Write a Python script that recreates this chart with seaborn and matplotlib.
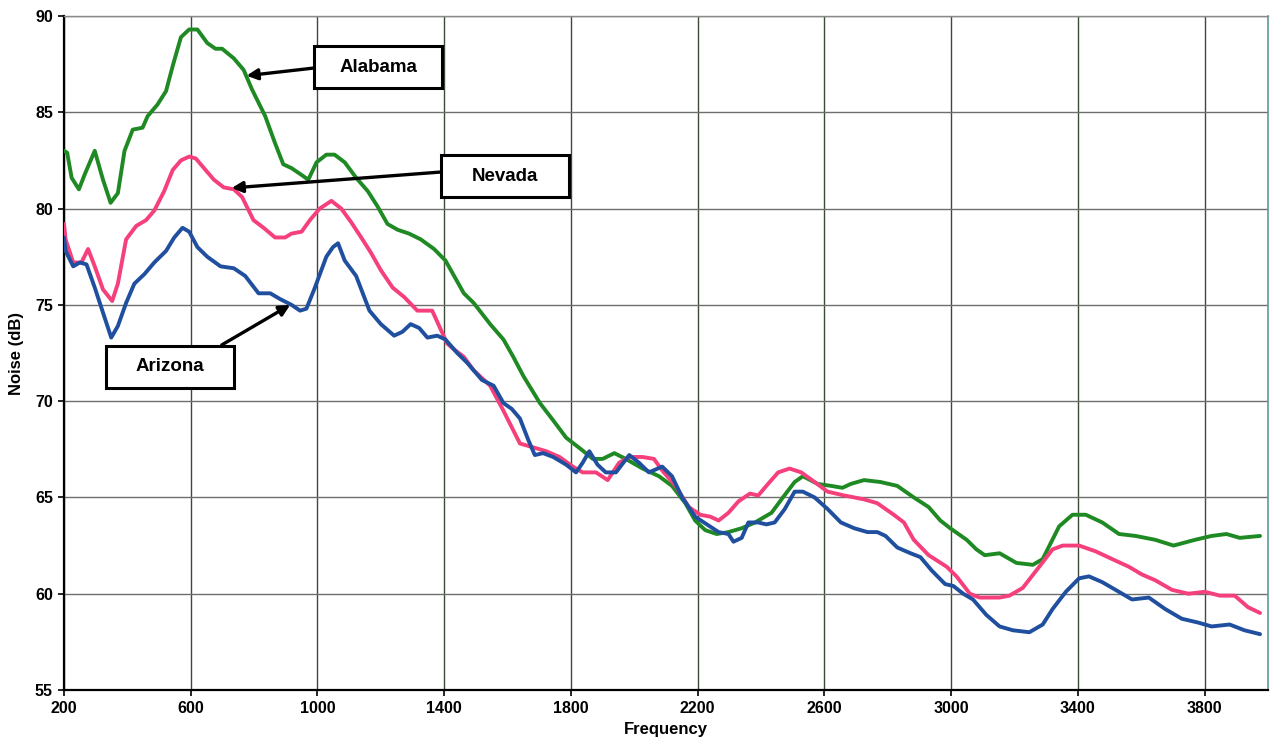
import pandas as pd
import matplotlib
matplotlib.use("Agg")
import matplotlib.pyplot as plt
from matplotlib.patches import Rectangle
import seaborn as sns

# values
alabama_freq = [200, 210, 224, 247, 266, 297, 323, 347, 370, 391, 417, 448, 464, 495, 522, 543, 569,
                595, 621, 652, 678, 699, 736, 767, 793, 835, 866, 892, 918, 945, 971, 997, 1028, 1054,
                1086, 1122, 1159, 1190, 1221, 1253, 1289, 1326, 1368, 1404, 1462, 1493, 1545, 1587,
                1618, 1650, 1702, 1744, 1785, 1832, 1869, 1900, 1937, 1973, 2026, 2078, 2119, 2161,
                2192, 2224, 2260, 2297, 2339, 2381, 2433, 2469, 2506, 2532, 2579, 2621, 2657, 2683,
                2725, 2777, 2830, 2882, 2929, 2966, 2997, 3049, 3080, 3106, 3153, 3206, 3258, 3289,
                3341, 3383, 3425, 3477, 3530, 3582, 3644, 3702, 3770, 3822, 3869, 3911, 3975]
alabama_db = [83.0, 82.9, 81.6, 81.0, 81.8, 83.0, 81.5, 80.3, 80.8, 83.0, 84.1, 84.2, 84.8, 85.4, 86.1,
              87.4, 88.9, 89.3, 89.3, 88.6, 88.3, 88.3, 87.8, 87.2, 86.2, 84.8, 83.4, 82.3, 82.1, 81.8,
              81.5, 82.4, 82.8, 82.8, 82.4, 81.6, 80.9, 80.1, 79.2, 78.9, 78.7, 78.4, 77.9, 77.3, 75.6,
              75.1, 74.0, 73.2, 72.3, 71.3, 69.9, 69.0, 68.1, 67.5, 67.0, 67.0, 67.3, 67.0, 66.5, 66.1,
              65.6, 64.7, 63.8, 63.3, 63.1, 63.2, 63.4, 63.7, 64.2, 65.0, 65.8, 66.1, 65.7, 65.6, 65.5,
              65.7, 65.9, 65.8, 65.6, 65.0, 64.5, 63.8, 63.4, 62.8, 62.3, 62.0, 62.1, 61.6, 61.5, 61.8,
              63.5, 64.1, 64.1, 63.7, 63.1, 63.0, 62.8, 62.5, 62.8, 63.0, 63.1, 62.9, 63.0]

nevada_freq = [200, 205, 229, 255, 276, 297, 323, 352, 370, 396, 428, 459, 485, 516, 543, 569, 595, 616,
               647, 673, 704, 736, 762, 798, 830, 866, 898, 918, 950, 976, 1007, 1044, 1075, 1106, 1138,
               1169, 1200, 1237, 1274, 1315, 1362, 1409, 1430, 1462, 1493, 1545, 1587, 1639, 1681, 1722,
               1764, 1806, 1837, 1879, 1916, 1952, 1984, 2026, 2062, 2088, 2130, 2172, 2208, 2240, 2266,
               2297, 2329, 2365, 2391, 2422, 2454, 2490, 2527, 2569, 2610, 2663, 2725, 2767, 2819, 2851,
               2882, 2929, 2986, 3017, 3059, 3090, 3153, 3184, 3226, 3278, 3320, 3352, 3404, 3456, 3508,
               3561, 3602, 3644, 3697, 3749, 3801, 3848, 3895, 3937, 3975]
nevada_db = [79.2, 78.4, 77.2, 77.2, 77.9, 77.0, 75.8, 75.2, 76.1, 78.4, 79.1, 79.4, 79.9, 80.9, 82.0,
             82.5, 82.7, 82.6, 82.0, 81.5, 81.1, 81.0, 80.6, 79.4, 79.0, 78.5, 78.5, 78.7, 78.8, 79.4,
             80.0, 80.4, 80.0, 79.3, 78.5, 77.7, 76.8, 75.9, 75.4, 74.7, 74.7, 73.0, 72.7, 72.3, 71.6,
             70.8, 69.5, 67.8, 67.6, 67.4, 67.1, 66.6, 66.3, 66.3, 65.9, 66.8, 67.1, 67.1, 67.0, 66.4,
             65.6, 64.5, 64.1, 64.0, 63.8, 64.2, 64.8, 65.2, 65.1, 65.7, 66.3, 66.5, 66.3, 65.8, 65.3,
             65.1, 64.9, 64.7, 64.1, 63.7, 62.8, 62.0, 61.4, 60.9, 60.0, 59.8, 59.8, 59.9, 60.3, 61.4,
             62.3, 62.5, 62.5, 62.2, 61.8, 61.4, 61.0, 60.7, 60.2, 60.0, 60.1, 59.9, 59.9, 59.3, 59.0]

arizona_freq = [200, 205, 229, 250, 271, 297, 323, 349, 370, 396, 422, 454, 485, 522, 548, 574, 595, 621,
                652, 694, 736, 772, 814, 851, 882, 918, 945, 965, 992, 1028, 1049, 1065, 1086, 1122, 1164,
                1200, 1242, 1268, 1294, 1321, 1347, 1378, 1404, 1441, 1472, 1519, 1556, 1587, 1613, 1639,
                1665, 1686, 1712, 1744, 1785, 1816, 1837, 1858, 1884, 1910, 1942, 1984, 2015, 2046, 2088,
                2119, 2151, 2192, 2229, 2266, 2297, 2313, 2339, 2360, 2391, 2417, 2443, 2475, 2506, 2532,
                2569, 2610, 2652, 2694, 2736, 2767, 2793, 2830, 2872, 2903, 2939, 2981, 3007, 3038, 3069,
                3111, 3153, 3195, 3247, 3289, 3320, 3362, 3404, 3435, 3477, 3519, 3571, 3624, 3676, 3728,
                3780, 3822, 3879, 3926, 3975]
arizona_db = [78.5, 77.8, 77.0, 77.2, 77.1, 75.9, 74.6, 73.3, 73.9, 75.1, 76.1, 76.6, 77.2, 77.8, 78.5,
              79.0, 78.8, 78.0, 77.5, 77.0, 76.9, 76.5, 75.6, 75.6, 75.3, 75.0, 74.7, 74.8, 75.9, 77.5,
              78.0, 78.2, 77.3, 76.5, 74.7, 74.0, 73.4, 73.6, 74.0, 73.8, 73.3, 73.4, 73.2, 72.5, 72.0,
              71.1, 70.8, 69.9, 69.6, 69.1, 68.0, 67.2, 67.3, 67.1, 66.7, 66.3, 66.8, 67.4, 66.7, 66.3,
              66.3, 67.2, 66.8, 66.3, 66.6, 66.1, 65.0, 64.0, 63.6, 63.2, 63.1, 62.7, 62.9, 63.7, 63.7,
              63.6, 63.7, 64.4, 65.3, 65.3, 65.0, 64.4, 63.7, 63.4, 63.2, 63.2, 63.0, 62.4, 62.1, 61.9,
              61.2, 60.5, 60.4, 60.0, 59.7, 58.9, 58.3, 58.1, 58.0, 58.4, 59.2, 60.1, 60.8, 60.9, 60.6,
              60.2, 59.7, 59.8, 59.2, 58.7, 58.5, 58.3, 58.4, 58.1, 57.9]

states = ["Alabama", "Nevada", "Arizona"]
colors = {"Alabama": "#1f8a24", "Nevada": "#f5407c", "Arizona": "#1f4f9e"}
x_ticks = list(range(200, 4000, 400))
y_ticks = list(range(55, 91, 5))

df = pd.concat([
    pd.DataFrame({"Frequency": alabama_freq, "Noise": alabama_db, "State": "Alabama"}),
    pd.DataFrame({"Frequency": nevada_freq, "Noise": nevada_db, "State": "Nevada"}),
    pd.DataFrame({"Frequency": arizona_freq, "Noise": arizona_db, "State": "Arizona"}),
])

sns.set_style("ticks")
plt.rcParams['font.family'] = ['Liberation Sans', 'DejaVu Sans']
plt.rcParams['font.weight'] = 'bold'
plt.rcParams['text.color'] = 'black'
plt.rcParams['axes.labelcolor'] = 'black'
plt.rcParams['xtick.color'] = 'black'
plt.rcParams['ytick.color'] = 'black'

fig = plt.figure(figsize=(12.7, 7.55), dpi=100)
ax = fig.add_axes([0.0504, 0.0861, 0.948, 0.8927])

sns.lineplot(data=df, x="Frequency", y="Noise", hue="State", hue_order=states,
             palette=colors, linewidth=2.8, legend=False, sort=False, ax=ax, zorder=3)

ax.set_xlim(200, 4000)
ax.set_ylim(55, 90)
ax.set_xticks(x_ticks)
ax.set_yticks(y_ticks)
ax.tick_params(axis='both', labelsize=11.5, length=4, width=1.2, color='black',
               labelcolor='black', pad=4)
for lbl in ax.get_xticklabels() + ax.get_yticklabels():
    lbl.set_fontweight('bold')

ax.grid(True, axis='x', color='#3d4a38', linewidth=1.0)
ax.grid(True, axis='y', color='#6e6e6e', linewidth=1.0)
ax.set_axisbelow(True)

for side in ['left', 'bottom']:
    ax.spines[side].set_color('black')
    ax.spines[side].set_linewidth(1.6)
ax.spines['top'].set_color('#8a8a8a')
ax.spines['top'].set_linewidth(1.0)
ax.spines['right'].set_color('#5f9a96')
ax.spines['right'].set_linewidth(1.2)

ax.set_xlabel("Frequency", fontsize=12, fontweight='bold', labelpad=4)
ax.set_ylabel("Noise (dB)", fontsize=12, fontweight='bold', labelpad=8)

# labelled boxes with arrows
boxes = [
    ("Alabama", 990, 86.26, (990, 87.3), (776, 86.9)),
    ("Nevada", 1391, 80.60, (1391, 81.9), (729, 81.07)),
    ("Arizona", 332, 70.69, (698, 72.92), (914, 75.0)),
]
for name, bx, by, tail, head in boxes:
    ax.add_patch(Rectangle((bx, by), 404, 2.18, facecolor='white', edgecolor='black',
                           linewidth=2.2, zorder=5))
    ax.text(bx + 202, by + 1.09, name, ha='center', va='center', fontsize=13.5,
            fontweight='bold', color='black', zorder=6)
    ax.annotate("", xy=head, xytext=tail,
                arrowprops=dict(arrowstyle='-|>', color='black', lw=2.4, mutation_scale=16,
                                shrinkA=0, shrinkB=0), zorder=4)

fig.savefig("out.png", dpi=100)
